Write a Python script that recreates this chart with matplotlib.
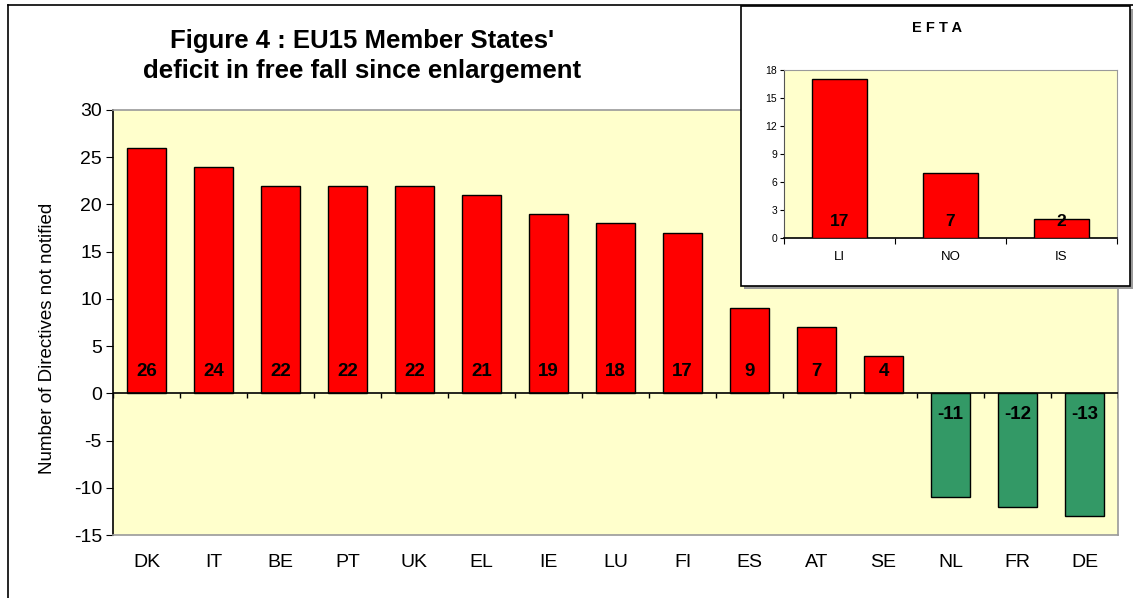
import numpy as np
import matplotlib.pyplot as plt
from matplotlib.patches import Rectangle

plt.rcParams['font.family'] = ['Liberation Sans', 'DejaVu Sans']
plt.rcParams['axes.unicode_minus'] = False

# --- data ---
countries = ['DK', 'IT', 'BE', 'PT', 'UK', 'EL', 'IE', 'LU', 'FI', 'ES', 'AT', 'SE', 'NL', 'FR', 'DE']
deficit = [26, 24, 22, 22, 22, 21, 19, 18, 17, 9, 7, 4, -11, -12, -13]

efta_countries = ['LI', 'NO', 'IS']
efta_deficit = [17, 7, 2]

RED = '#FF0000'
GREEN = '#339966'
BG = '#FFFFCC'
GREY = '#9a9a9a'

W, H = 1133, 598
fig = plt.figure(figsize=(W / 100, H / 100), dpi=100)

# outer frame lines (left and top)
fig.add_artist(plt.Line2D([8 / W, 8 / W], [0, 1 - 5 / H], color='black', lw=1.2))
fig.add_artist(plt.Line2D([8 / W, 1], [1 - 5 / H, 1 - 5 / H], color='black', lw=1.2))

# --- main chart ---
ax = fig.add_axes([113 / W, 1 - 535 / H, 1005 / W, 425 / H])
ax.set_facecolor(BG)
x = np.arange(len(countries))
colors = [RED if v > 0 else GREEN for v in deficit]
ax.bar(x, deficit, width=0.58, color=colors, edgecolor='black', linewidth=1.0, zorder=3)
for xi, v in zip(x, deficit):
    ypos = 2.3 if v > 0 else -2.2
    ax.text(xi, ypos, str(v), ha='center', va='center', fontsize=13.5, fontweight='bold', zorder=4)

ax.set_xlim(-0.5, len(countries) - 0.5)
ax.set_ylim(-15, 30)
ax.set_yticks(range(-15, 31, 5))
ax.set_xticks(x)
ax.set_xticklabels(countries)
ax.tick_params(axis='x', length=0, pad=14, labelsize=14)
ax.tick_params(axis='y', length=5, direction='out', labelsize=14, pad=3)
ax.axhline(0, color='black', lw=1.2, zorder=5)
ax.vlines(np.arange(-0.5, len(countries)), 0, -0.5, color='black', lw=1.0, zorder=5)
for s in ['top', 'right', 'bottom']:
    ax.spines[s].set_color(GREY)
    ax.spines[s].set_linewidth(1.2)
ax.spines['left'].set_color('black')
ax.spines['left'].set_linewidth(1.2)
fig.text(48 / W, 1 - 338 / H, 'Number of Directives not notified', rotation=90,
         ha='center', va='center', fontsize=13.5)

fig.text(362 / W, 1 - 56 / H, "Figure 4 : EU15 Member States'\ndeficit in free fall since enlargement",
         ha='center', va='center', fontsize=18.5, fontweight='bold', linespacing=1.3)

# --- EFTA inset ---
fig.add_artist(Rectangle((744 / W, 1 - 289 / H), 390 / W, 280 / H,
                         transform=fig.transFigure, facecolor=GREY, edgecolor='none', zorder=9))
fig.add_artist(Rectangle((741 / W, 1 - 286 / H), 389 / W, 280 / H,
                         transform=fig.transFigure, facecolor='white', edgecolor='black', lw=1.2, zorder=10))

ax2 = fig.add_axes([784 / W, 1 - 238 / H, 333 / W, 168 / H], zorder=11)
ax2.set_facecolor(BG)
x2 = np.arange(len(efta_countries))
ax2.bar(x2, efta_deficit, width=0.5, color=RED, edgecolor='black', linewidth=1.0, zorder=3)
for xi, v in zip(x2, efta_deficit):
    ax2.text(xi, 1.8, str(v), ha='center', va='center', fontsize=12.5, fontweight='bold', zorder=4)
ax2.set_xlim(-0.5, len(efta_countries) - 0.5)
ax2.set_ylim(0, 18)
ax2.set_yticks(range(0, 19, 3))
ax2.set_xticks(np.arange(-0.5, len(efta_countries)))
ax2.set_xticklabels([])
ax2.set_xticks(x2, minor=True)
ax2.set_xticklabels(efta_countries, minor=True)
ax2.tick_params(axis='x', which='major', length=4, direction='out', color='black')
ax2.tick_params(axis='x', which='minor', length=0, pad=9, labelsize=9.5)
ax2.tick_params(axis='y', length=3, direction='out', labelsize=7.5, pad=2)
for s in ['top', 'right']:
    ax2.spines[s].set_color(GREY)
ax2.spines['left'].set_color('#555555')
ax2.spines['bottom'].set_color('black')
ax2.spines['bottom'].set_linewidth(1.2)
fig.text(937 / W, 1 - 28 / H, 'E F T A', ha='center', va='center', fontsize=10.5,
         fontweight='bold', zorder=12)

fig.savefig('out.png', dpi=100)
